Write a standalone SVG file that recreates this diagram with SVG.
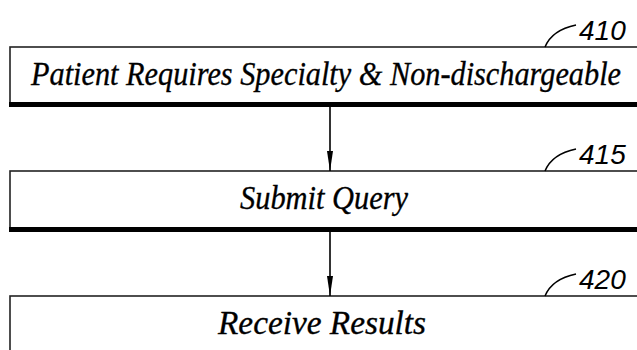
<svg xmlns="http://www.w3.org/2000/svg" width="637" height="350" viewBox="0 0 637 350">
<defs>
<style>
.box{fill:#fff;stroke:#222;stroke-width:1.6}
.base{stroke:#000;stroke-width:5}
.t{font-family:"Liberation Serif","Times New Roman",serif;font-style:italic;font-size:30px;fill:#000;stroke:#000;stroke-width:0.3;text-anchor:middle}
.n{font-family:"Liberation Sans",Arial,sans-serif;font-style:italic;font-size:28px;fill:#000}
.lead{fill:none;stroke:#000;stroke-width:1.5}
.conn{stroke:#000;stroke-width:1.6}
</style>
<marker id="ah" viewBox="0 0 20 6" refX="20" refY="3" markerWidth="20" markerHeight="6" markerUnits="userSpaceOnUse" orient="auto">
<path d="M0,0 L20,3 L0,6 Z" fill="#000"/>
</marker>
</defs>
<rect width="637" height="350" fill="#fff"/>
<g id="node410">
<rect class="box" x="10" y="47" width="640" height="58"/>
<line class="base" x1="9" y1="104.5" x2="637" y2="104.5"/>
<text class="t" transform="translate(326,85) scale(1,1.13)" x="0" y="0" textLength="590" lengthAdjust="spacingAndGlyphs">Patient Requires Specialty &amp; Non-dischargeable</text>
<path class="lead" d="M545,47 Q552,30 576,25"/>
<text class="n" x="579" y="40">410</text>
</g>
<g id="node415">
<rect class="box" x="10" y="171" width="640" height="59"/>
<line class="base" x1="9" y1="229.5" x2="637" y2="229.5"/>
<text class="t" transform="translate(324,209) scale(1,1.13)" x="0" y="0" textLength="168" lengthAdjust="spacingAndGlyphs">Submit Query</text>
<path class="lead" d="M545,171 Q552,154 576,149"/>
<text class="n" x="579" y="164">415</text>
</g>
<g id="node420">
<rect class="box" x="10" y="296" width="640" height="70"/>
<text class="t" transform="translate(322,334) scale(1,1.13)" x="0" y="0" textLength="208" lengthAdjust="spacingAndGlyphs">Receive Results</text>
<path class="lead" d="M545,296 Q552,279 576,274"/>
<text class="n" x="579" y="289">420</text>
</g>
<g id="connectors">
<line class="conn" x1="330" y1="107" x2="330" y2="171" marker-end="url(#ah)"/>
<line class="conn" x1="330" y1="232" x2="330" y2="296" marker-end="url(#ah)"/>
</g>
</svg>
